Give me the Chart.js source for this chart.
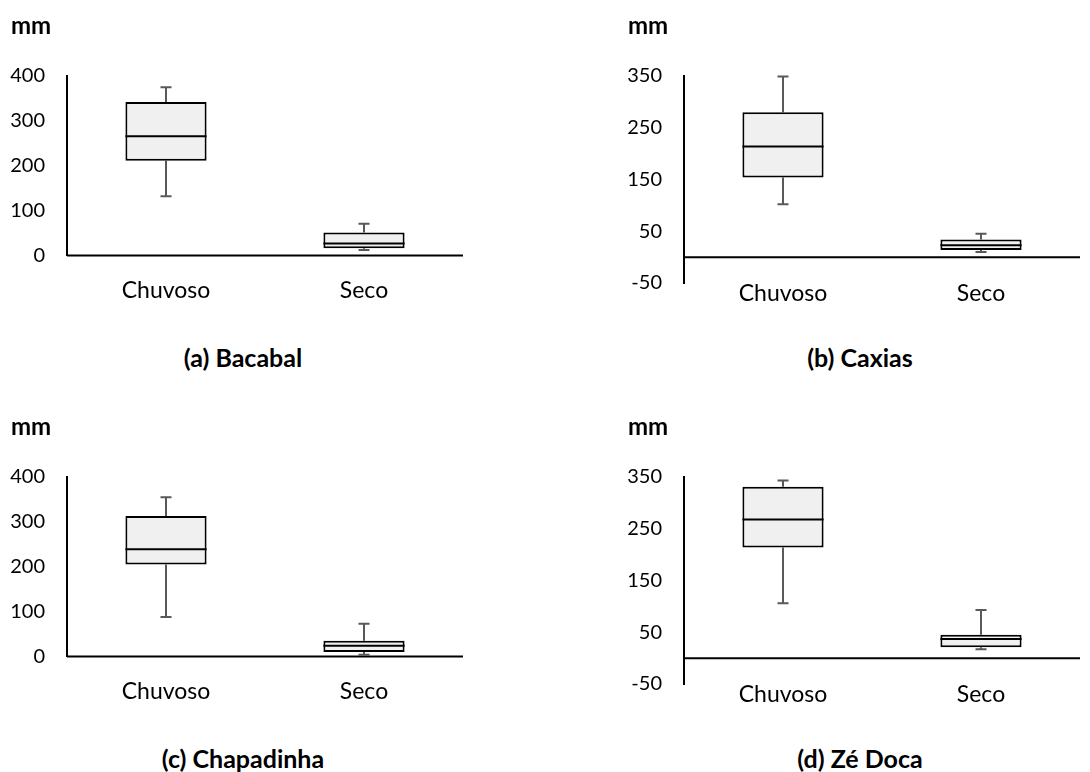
<!DOCTYPE html>
<html>
<head>
<meta charset="utf-8">
<script src="https://cdn.jsdelivr.net/npm/chart.js@4.4.0/dist/chart.umd.min.js"></script>
<style>
  html, body { margin: 0; padding: 0; background: #fff; width: 1090px; height: 772px; overflow: hidden; }
  .panel { position: absolute; width: 486px; height: 400px; }
  .panel canvas { position: absolute; left: 0; top: 0; }
  .unit { position: absolute; left: 11px; top: 10px; line-height: 28px; font: bold 24px Lato, sans-serif; color: #000; }
  .caption { position: absolute; left: 0; width: 486px; top: 342px; line-height: 28px; text-align: center; font: bold 25px Lato, sans-serif; color: #000; }
</style>
</head>
<body>
<div id="root"></div>
<script>
  // Data (mm)
  const stations = ['(a) Bacabal', '(b) Caxias', '(c) Chapadinha', '(d) Zé Doca'];
  const seasons = ['Chuvoso', 'Seco'];
  const whiskerMin = [[132, 12], [102, 10], [88, 4], [106, 17]];
  const quartile1 = [[211, 16], [154, 14], [205, 10], [214, 21]];
  const medians = [[266, 27], [214, 23], [239, 24], [268, 37]];
  const quartile3 = [[342, 51], [280, 34], [313, 35], [331, 45]];
  const whiskerMax = [[375, 71], [349, 45], [355, 73], [343, 93]];
  const axisMin = [0, -50, 0, -50];
  const axisMax = [400, 350, 400, 350];
  const axisStep = [100, 100, 100, 100];

  // Panel placement on the page
  const panelPos = [
    { left: 0, top: 0, plotBottom: 255.5, labelPad: 21 },
    { left: 617, top: 0, plotBottom: 283, labelPad: -3 },
    { left: 0, top: 401, plotBottom: 255.5, labelPad: 21 },
    { left: 617, top: 401, plotBottom: 283, labelPad: -3 }
  ];

  const CANVAS_W = 486;
  const CANVAS_H = 320;

  // Zero line and whiskers under the box, median on top of it
  const boxWhiskerPlugin = {
    id: 'boxWhiskers',
    beforeDatasetsDraw(chart) {
      const ctx = chart.ctx;
      const y = chart.scales.y;
      const area = chart.chartArea;
      const ds = chart.data.datasets[0];
      const meta = chart.getDatasetMeta(0);
      ctx.save();

      // horizontal axis crosses at 0
      const y0 = y.getPixelForValue(0);
      ctx.strokeStyle = '#000';
      ctx.lineWidth = 2;
      ctx.beginPath();
      ctx.moveTo(area.left, y0);
      ctx.lineTo(area.right, y0);
      ctx.stroke();

      ctx.strokeStyle = '#595959';
      ctx.lineWidth = 2;
      meta.data.forEach((bar, k) => {
        const x = bar.x;
        const yMin = y.getPixelForValue(ds.whiskerMin[k]);
        const yMax = y.getPixelForValue(ds.whiskerMax[k]);
        const yQ1 = y.getPixelForValue(ds.data[k][0]);
        const yQ3 = y.getPixelForValue(ds.data[k][1]);
        ctx.beginPath();
        ctx.moveTo(x, yQ3); ctx.lineTo(x, yMax);
        ctx.moveTo(x - 5.5, yMax); ctx.lineTo(x + 5.5, yMax);
        ctx.moveTo(x, yQ1); ctx.lineTo(x, yMin);
        ctx.moveTo(x - 5.5, yMin); ctx.lineTo(x + 5.5, yMin);
        ctx.stroke();
      });
      ctx.restore();
    },
    afterDatasetsDraw(chart) {
      const ctx = chart.ctx;
      const y = chart.scales.y;
      const ds = chart.data.datasets[0];
      const meta = chart.getDatasetMeta(0);
      ctx.save();
      ctx.strokeStyle = '#000';
      ctx.lineWidth = 2;
      meta.data.forEach((bar, k) => {
        const yMed = y.getPixelForValue(ds.medians[k]);
        ctx.beginPath();
        ctx.moveTo(bar.x - bar.width / 2, yMed);
        ctx.lineTo(bar.x + bar.width / 2, yMed);
        ctx.stroke();
      });
      ctx.restore();
    }
  };

  function buildPanel(i) {
    const pos = panelPos[i];
    const panel = document.createElement('div');
    panel.className = 'panel';
    panel.style.left = pos.left + 'px';
    panel.style.top = pos.top + 'px';

    const canvas = document.createElement('canvas');
    canvas.width = CANVAS_W;
    canvas.height = CANVAS_H;
    panel.appendChild(canvas);

    const unit = document.createElement('div');
    unit.className = 'unit';
    unit.textContent = 'mm';
    panel.appendChild(unit);

    const caption = document.createElement('div');
    caption.className = 'caption';
    caption.textContent = stations[i];
    panel.appendChild(caption);

    document.getElementById('root').appendChild(panel);

    const xHeight = CANVAS_H - 10 - pos.plotBottom;

    new Chart(canvas, {
      type: 'bar',
      data: {
        labels: seasons,
        datasets: [{
          data: quartile1[i].map((q, k) => [q, quartile3[i][k]]),
          whiskerMin: whiskerMin[i],
          whiskerMax: whiskerMax[i],
          medians: medians[i],
          backgroundColor: '#f0f0f0',
          borderColor: '#000',
          borderWidth: 2,
          borderSkipped: false,
          barPercentage: 0.41,
          categoryPercentage: 1
        }]
      },
      options: {
        responsive: false,
        animation: false,
        events: [],
        layout: { padding: { top: 76, right: 23, bottom: 10, left: 0 } },
        plugins: {
          legend: { display: false },
          tooltip: { enabled: false }
        },
        scales: {
          x: {
            grid: { display: false, drawTicks: false },
            border: { display: false },
            ticks: {
              color: '#000',
              padding: pos.labelPad,
              font: { family: 'Lato', size: 23 }
            },
            afterFit: (s) => { s.height = xHeight; }
          },
          y: {
            min: axisMin[i],
            max: axisMax[i],
            ticks: {
              stepSize: axisStep[i],
              color: '#000',
              padding: 22,
              font: { family: 'Lato', size: 20 }
            },
            grid: { display: false, drawTicks: false },
            border: { display: true, color: '#000', width: 2 },
            afterFit: (s) => { s.width = 67; }
          }
        }
      },
      plugins: [boxWhiskerPlugin]
    });
  }

  for (let i = 0; i < 4; i++) buildPanel(i);
</script>
</body>
</html>
